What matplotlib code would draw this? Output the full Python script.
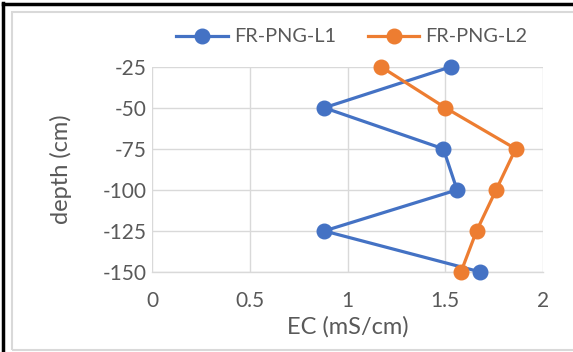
import matplotlib.pyplot as plt
from matplotlib.patches import Rectangle
from matplotlib.lines import Line2D

# depth (cm) for each sample and EC readings for the two profiles
depth = [-25, -50, -75, -100, -125, -150]
ec_l1 = [1.53, 0.88, 1.49, 1.56, 0.88, 1.68]
ec_l2 = [1.17, 1.50, 1.86, 1.76, 1.66, 1.58]
labels = ["FR-PNG-L1", "FR-PNG-L2"]

x_ticks = [0, 0.5, 1, 1.5, 2]
x_tick_labels = ["0", "0.5", "1", "1.5", "2"]
y_ticks = [-25, -50, -75, -100, -125, -150]

blue = "#4472C4"
orange = "#ED7D31"
grid_gray = "#D9D9D9"
text_gray = "#595959"

plt.rcParams['font.family'] = ['Lato', 'DejaVu Sans']
plt.rcParams['axes.unicode_minus'] = False

W, H = 573, 352
fig = plt.figure(figsize=(W / 100, H / 100), dpi=100)
ax = fig.add_axes([152.3 / W, 1 - 272 / H, (543 - 152.3) / W, (272 - 66.7) / H])

ax.plot(ec_l1, depth, color=blue, lw=2.3, marker="o", ms=10.5, label=labels[0], clip_on=False, zorder=3)
ax.plot(ec_l2, depth, color=orange, lw=2.3, marker="o", ms=10.5, label=labels[1], clip_on=False, zorder=3)

ax.set_xlim(0, 2)
ax.set_ylim(-150, -25)
ax.set_xticks(x_ticks)
ax.set_xticklabels(x_tick_labels)
ax.set_yticks(y_ticks)

ax.grid(True, color=grid_gray, lw=1.0)
ax.set_axisbelow(True)
for side in ["top", "right", "left"]:
    ax.spines[side].set_visible(False)
ax.spines["bottom"].set_color(grid_gray)
ax.spines["bottom"].set_linewidth(1.0)

ax.tick_params(length=0, labelsize=15, colors=text_gray)
ax.tick_params(axis="x", pad=14)
ax.tick_params(axis="y", pad=4)

ax.set_xlabel("EC (mS/cm)", fontsize=17, color=text_gray, labelpad=3)
ax.set_ylabel("depth (cm)", fontsize=17, color=text_gray, labelpad=22)

ax.legend(loc="center", bbox_to_anchor=(352 / W, 1 - 37 / H), bbox_transform=fig.transFigure,
          ncol=2, frameon=False, fontsize=14.3, labelcolor=text_gray,
          handlelength=2.6, columnspacing=1.6, handletextpad=0.3)

# chart area border and outer frame
fig.add_artist(Rectangle((12 / W, 2 / H), 1, 1 - 14 / H, transform=fig.transFigure,
                         fill=False, edgecolor=grid_gray, lw=1.5))
fig.add_artist(Line2D([3 / W, 3 / W], [0, 1 - 3 / H], transform=fig.transFigure, color="black", lw=2.5))
fig.add_artist(Line2D([3 / W, 1], [1 - 4 / H, 1 - 4 / H], transform=fig.transFigure, color="black", lw=2.5))

fig.savefig("out.png", dpi=100)
